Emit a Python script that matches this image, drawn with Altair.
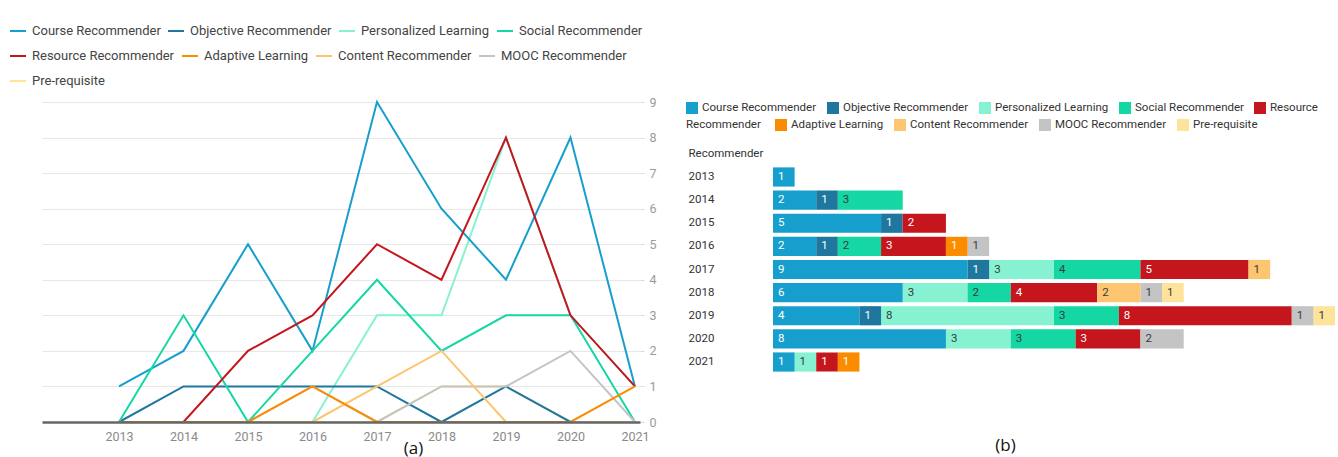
import altair as alt
import pandas as pd

# Publication counts per recommender type and year
years = [2013, 2014, 2015, 2016, 2017, 2018, 2019, 2020, 2021]
categories = [
    "Course Recommender", "Objective Recommender", "Personalized Learning",
    "Social Recommender", "Resource Recommender", "Adaptive Learning",
    "Content Recommender", "MOOC Recommender", "Pre-requisite",
]
colors = ["#169fcc", "#1f77a0", "#86f2d2", "#14d7a4", "#c5161d",
          "#fb8c00", "#fdc56f", "#c4c4c4", "#fee39b"]

course = [1, 2, 5, 2, 9, 6, 4, 8, 1]
objective = [0, 1, 1, 1, 1, 0, 1, 0, 0]
personalized = [0, 0, 0, 0, 3, 3, 8, 3, 1]
social = [0, 3, 0, 2, 4, 2, 3, 3, 0]
resource = [0, 0, 2, 3, 5, 4, 8, 3, 1]
adaptive = [0, 0, 0, 1, 0, 0, 0, 0, 1]
content = [0, 0, 0, 0, 1, 2, 0, 0, 0]
mooc = [0, 0, 0, 1, 0, 1, 1, 2, 0]
prereq = [0, 0, 0, 0, 0, 1, 1, 0, 0]

series = [course, objective, personalized, social, resource,
          adaptive, content, mooc, prereq]

# painting order of the lines, bottom to top
draw_order = ["Pre-requisite", "Personalized Learning", "Course Recommender",
              "Objective Recommender", "Social Recommender", "MOOC Recommender",
              "Content Recommender", "Resource Recommender", "Adaptive Learning"]

rows = []
for k, (cat, vals) in enumerate(zip(categories, series)):
    for yr, v in zip(years, vals):
        rows.append({"year": yr, "cat": cat, "order": k,
                     "paint": draw_order.index(cat), "n": v})
df = pd.DataFrame(rows).sort_values(["paint", "year"]).reset_index(drop=True)

FONT = "Roboto"
color_of = dict(zip(categories, colors))
light_text = ["Personalized Learning", "Social Recommender", "Content Recommender",
              "MOOC Recommender", "Pre-requisite"]

# ---- (a) line chart: one legend row per layer so the entries flow ----
line_rows = [categories[0:4], categories[4:8], categories[8:9]]

x_line = alt.X("year:Q",
               scale=alt.Scale(domain=[2011.806, 2021.078], nice=False, zero=False),
               axis=alt.Axis(values=years, format="d", ticks=False, grid=False,
                             domainColor="#666666", domainWidth=2.5, zindex=1,
                             labelColor="#8a8a8a", labelFontSize=12.5, labelFont=FONT,
                             labelPadding=8, labelFlush=False,
                             title="(a)", titleFont="Open Sans", titleFontSize=17,
                             titleFontWeight="normal", titleColor="#111111",
                             titleX=371, titleY=26, titleAlign="center",
                             titleBaseline="middle"))
y_line = alt.Y("n:Q", scale=alt.Scale(domain=[0, 9], nice=False),
               axis=alt.Axis(orient="right", values=list(range(10)), title=None,
                             domain=False, gridColor="#e8e8e8", gridWidth=1,
                             tickColor="#dddddd", tickSize=4, labelPadding=5,
                             labelColor="#9a9a9a", labelFontSize=12.5, labelFont=FONT,
                             zindex=0))


def line_layer(cats, row):
    return alt.Chart(df).transform_filter(
        alt.FieldOneOfPredicate(field="cat", oneOf=cats)
    ).mark_line(strokeWidth=2).encode(
        x=x_line, y=y_line,
        color=alt.Color("cat:N", sort=cats,
                        scale=alt.Scale(domain=cats, range=[color_of[c] for c in cats]),
                        legend=alt.Legend(title=None, orient="none", legendX=-33,
                                          legendY=-80 + 25 * row,
                                          direction="horizontal", columns=len(cats),
                                          symbolType="stroke", symbolSize=256,
                                          symbolStrokeWidth=2, labelFont=FONT,
                                          labelFontSize=13, labelColor="#444444",
                                          labelLimit=300, labelOffset=5,
                                          columnPadding=3, padding=0)),
        order=alt.Order("paint:Q"),
    )


lines = alt.layer(
    line_layer(line_rows[2], 2), line_layer(line_rows[0], 0), line_layer(line_rows[1], 1)
).resolve_scale(color="independent").resolve_legend(color="independent").properties(
    width=598, height=320)

# ---- (b) stacked bars ----
first_five = categories[:5]
last_four = categories[5:]

stacked = alt.Chart(df).transform_filter("datum.n > 0").transform_window(
    cum="sum(n)", groupby=["year"], sort=[alt.SortField("order")], frame=[None, 0]
).transform_calculate(start="datum.cum - datum.n")

y_enc = alt.Y("year:O",
              scale=alt.Scale(paddingInner=0.17, paddingOuter=0, range=[65.4, 269.6]),
              axis=alt.Axis(title="Recommender", titleAngle=0, titleX=-85, titleY=51,
                            titleAlign="left", titleBaseline="middle",
                            titleFont=FONT, titleFontSize=11.5,
                            titleFontWeight="normal", titleColor="#333333",
                            labelAlign="left", labelPadding=85, ticks=False,
                            domain=False, labelFont=FONT, labelFontSize=11.5,
                            labelColor="#333333"))
x_enc = alt.X("start:Q", scale=alt.Scale(domain=[0, 26], nice=False),
              axis=alt.Axis(labels=False, ticks=False, domain=False, grid=False,
                            title="(b)", titleFont="Open Sans", titleFontSize=17,
                            titleFontWeight="normal", titleColor="#111111",
                            titleX=232, titleY=73, titleAlign="center",
                            titleBaseline="middle"))

legend_common = dict(orient="none", legendX=-87, direction="horizontal",
                     symbolType="square", symbolSize=144,
                     symbolStrokeWidth=0, labelFont=FONT, labelFontSize=11.5,
                     labelColor="#333333", labelLimit=300, labelOffset=4,
                     columnPadding=10, padding=0)

bars_a = stacked.transform_filter(
    alt.FieldOneOfPredicate(field="cat", oneOf=first_five)
).mark_bar().encode(
    y=y_enc, x=x_enc, x2="cum:Q",
    color=alt.Color("cat:N", sort=first_five,
                    scale=alt.Scale(domain=first_five, range=colors[:5]),
                    legend=alt.Legend(title=None, legendY=0, columns=5,
                                      labelExpr="datum.label == 'Resource Recommender' ? 'Resource' : datum.label",
                                      **legend_common)),
)

bars_b = stacked.transform_filter(
    alt.FieldOneOfPredicate(field="cat", oneOf=last_four)
).mark_bar().encode(
    y=y_enc, x=x_enc, x2="cum:Q",
    color=alt.Color("cat:N", sort=last_four,
                    scale=alt.Scale(domain=last_four, range=colors[5:]),
                    legend=alt.Legend(title="Recommender", titleOrient="left",
                                      titleFont=FONT,
                                      titleFontSize=11.5, titleFontWeight="normal",
                                      titleColor="#333333", titlePadding=14,
                                      titleBaseline="middle",
                                      legendY=17, columns=4, **legend_common)),
)

labels = stacked.mark_text(align="left", baseline="middle", dx=5, font=FONT,
                           fontSize=11.5).encode(
    y=y_enc, x=x_enc,
    text="n:Q",
    color=alt.condition(alt.FieldOneOfPredicate(field="cat", oneOf=light_text),
                        alt.value("#3a3a3a"), alt.value("#ffffff")),
)

bars = alt.layer(bars_a, bars_b, labels).resolve_scale(
    color="independent").resolve_legend(color="independent").properties(
    width=562, height=270)

chart = alt.hconcat(lines, bars, spacing=133, bounds="flush").resolve_scale(
    color="independent").resolve_legend(color="independent").properties(
    padding={"left": 9, "top": 22, "right": 0, "bottom": 4}
).configure(font=FONT, background="white").configure_view(stroke=None)

chart.save("out.html", embed_options={"renderer": "svg", "actions": False})
